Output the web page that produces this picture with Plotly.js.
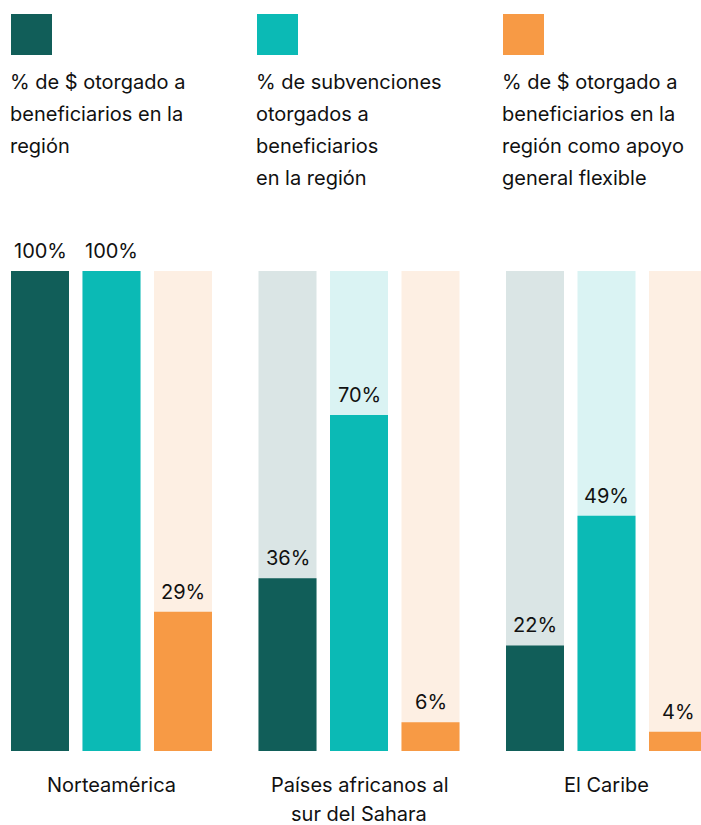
<!DOCTYPE html>
<html>
<head>
<meta charset="utf-8">
<script src="https://cdn.plot.ly/plotly-3.0.1.min.js"></script>
<style>html,body{margin:0;padding:0;background:#fff;}#chart{width:701px;height:825px;}</style>
</head>
<body>
<div id="chart"></div>
<script>
// Data
const regions = ["Norteamérica", "Países africanos al<br>sur del Sahara", "El Caribe"];
const dollarsShare = [100, 36, 22];
const grantsShare = [100, 70, 49];
const flexibleShare = [29, 6, 4];
const fullBar = [100, 100, 100];
const seriesNames = [
  "% de $ otorgado a<br>beneficiarios en la<br>región",
  "% de subvenciones<br>otorgados a<br>beneficiarios<br>en la región",
  "% de $ otorgado a<br>beneficiarios en la<br>región como apoyo<br>general flexible"
];

// Styles
const FONT = "Inter, 'Noto Sans', sans-serif";
const FS = 20;
const colors = ["#115E59", "#0BBAB5", "#F79A45"];
const tints = ["#DAE5E5", "#DAF3F3", "#FDEFE3"];
const W = 701, H = 825, TOP = 271, BOTTOM = 74;
const plotH = H - TOP - BOTTOM;
const slot = 71.5;
const values = [dollarsShare, grantsShare, flexibleShare];

const traces = [];
values.forEach((v, s) => {
  traces.push({type: "bar", x: regions, y: fullBar, offsetgroup: String(s),
    marker: {color: tints[s]}, hoverinfo: "skip", showlegend: false});
});
values.forEach((v, s) => {
  traces.push({type: "bar", x: regions, y: v, offsetgroup: String(s),
    marker: {color: colors[s]}, name: seriesNames[s], hoverinfo: "skip", showlegend: false});
});

const annotations = [];
const shapes = [];
// value labels
values.forEach((v, s) => {
  v.forEach((val, i) => {
    annotations.push({x: regions[i], y: val, xref: "x", yref: "y", text: val + "%",
      showarrow: false, xshift: (s - 1) * slot, yshift: 20, yanchor: "middle", borderpad: 0,
      font: {family: FONT, size: FS, color: "#111"}});
  });
});
// category labels (one annotation per line)
regions.forEach((r, i) => {
  r.split("<br>").forEach((line, k) => {
    const py = 785 + k * 29;
    annotations.push({x: r, xref: "x", y: (H - BOTTOM - py) / plotH, yref: "paper",
      text: line, showarrow: false, yanchor: "middle", borderpad: 0,
      font: {family: FONT, size: FS, color: "#111"}});
  });
});
// custom legend
const legX = [11, 257, 503];
seriesNames.forEach((name, s) => {
  shapes.push({type: "rect", xref: "paper", yref: "paper",
    x0: legX[s] / W, x1: (legX[s] + 41) / W,
    y0: (H - BOTTOM - 55) / plotH, y1: (H - BOTTOM - 14) / plotH,
    fillcolor: colors[s], line: {width: 0}});
  name.split("<br>").forEach((line, k) => {
    const py = 82 + k * 32;
    annotations.push({x: (legX[s] - 2) / W, xref: "paper", y: (H - BOTTOM - py) / plotH, yref: "paper",
      text: line, showarrow: false, xanchor: "left", yanchor: "middle", align: "left", borderpad: 0,
      font: {family: FONT, size: FS, color: "#111"}});
  });
});

const x0 = 111.5, period = 247.5;
const layout = {
  width: W, height: H,
  margin: {l: 0, r: 0, t: TOP, b: BOTTOM, pad: 0},
  paper_bgcolor: "#fff", plot_bgcolor: "#fff",
  barmode: "group", bargap: 1 - 3 * slot / period, bargroupgap: (slot - 58) / slot,
  xaxis: {type: "category", range: [-x0 / period, (W - x0) / period],
    showticklabels: false, showgrid: false, zeroline: false, showline: false, ticks: ""},
  yaxis: {range: [0, 100], visible: false, showgrid: false, zeroline: false},
  showlegend: false, hovermode: false,
  annotations: annotations, shapes: shapes,
  font: {family: FONT}
};
Plotly.newPlot("chart", traces, layout, {displayModeBar: false, staticPlot: true});
</script>
</body>
</html>
